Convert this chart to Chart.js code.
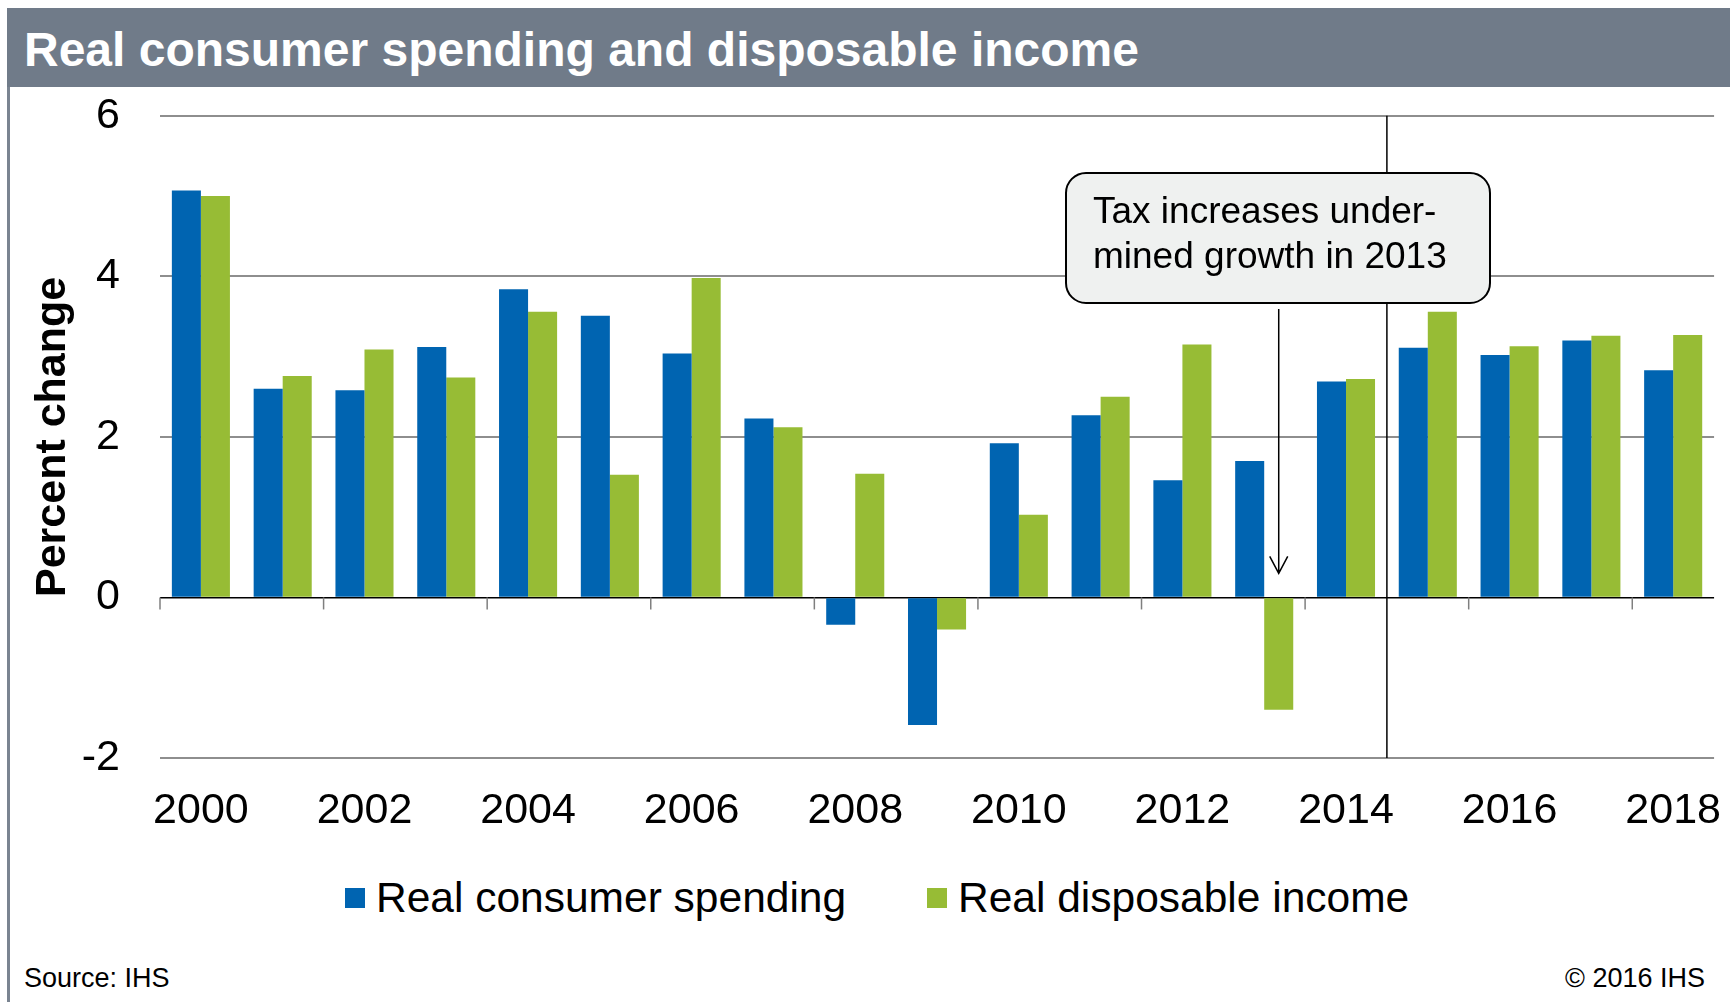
<!DOCTYPE html>
<html>
<head>
<meta charset="utf-8">
<script src="https://cdn.jsdelivr.net/npm/chart.js@4.4.1/dist/chart.umd.min.js"></script>
<style>
  body { margin: 0; background: #fff; font-family: "Liberation Sans", Arial, sans-serif; }
  #page { position: relative; width: 1730px; height: 1002px; overflow: hidden; }
  #titlebar { position: absolute; left: 7px; top: 8px; width: 1723px; height: 79px; background: #707b89; }
  #titlebar span { position: absolute; left: 17px; top: 18px; line-height: 48px; color: #fff; font-weight: bold; font-size: 48px; white-space: nowrap; }
  #leftline { position: absolute; left: 7px; top: 87px; width: 3px; height: 915px; background: #7a8491; }
  #box { position: absolute; left: 10px; top: 50px; width: 1738px; height: 788px; }
  .foot { position: absolute; top: 963px; font-size: 27px; color: #000; }
  .leg { position: absolute; top: 873px; height: 50px; line-height: 50px; font-size: 42.5px; color: #000; white-space: nowrap; }
  .leg i { position: absolute; top: 15px; width: 20px; height: 20px; }
</style>
</head>
<body>
<div id="page">
  <div id="titlebar"><span>Real consumer spending and disposable income</span></div>
  <div id="leftline"></div>
  <div id="box"><canvas id="chart"></canvas></div>
  <div id="legend"></div>
  <div class="foot" style="left:24px">Source: IHS</div>
  <div class="foot" style="right:25px">© 2016 IHS</div>
</div>
<script>
const years = ["2000","2001","2002","2003","2004","2005","2006","2007","2008","2009",
               "2010","2011","2012","2013","2014","2015","2016","2017","2018"];
const spending = [5.07, 2.60, 2.58, 3.12, 3.84, 3.51, 3.04, 2.23, -0.34, -1.59,
                  1.92, 2.27, 1.46, 1.70, 2.69, 3.11, 3.02, 3.20, 2.83];
const income = [5.00, 2.76, 3.09, 2.74, 3.56, 1.53, 3.98, 2.12, 1.54, -0.40,
                1.03, 2.50, 3.15, -1.40, 2.72, 3.56, 3.13, 3.26, 3.27];
const seriesLabels = ["Real consumer spending", "Real disposable income"];
const seriesColors = ["#0064b1", "#97bc35"];
const yTicks = [-2, 0, 2, 4, 6];
const noteLines = ["Tax increases under-", "mined growth in 2013"];
const noteYear = "2013";
const forecastFrom = "2015";

const FONT = '"Liberation Sans", Arial, sans-serif';

// legend below the chart, built from the series names and colours
const legendX = [345, 927];
const legendEl = document.getElementById("legend");
seriesLabels.forEach((name, i) => {
  const d = document.createElement("div");
  d.className = "leg";
  d.style.left = legendX[i] + "px";
  d.innerHTML = '<i style="left:0;background:' + seriesColors[i] + '"></i><span style="margin-left:31px">' + name + '</span>';
  legendEl.appendChild(d);
});

// zero line ticks, forecast divider and the note with its arrow
const extras = {
  id: "extras",
  afterDatasetsDraw(chart) {
    const ctx = chart.ctx;
    const x = chart.scales.x, y = chart.scales.y;
    const half = (x.getPixelForValue(1) - x.getPixelForValue(0)) / 2;
    const y0 = y.getPixelForValue(0);
    ctx.save();
    ctx.strokeStyle = "#7f7f7f";
    ctx.lineWidth = 1.5;
    for (let i = 0; i < years.length; i += 2) {
      const px = x.getPixelForValue(i) - half;
      ctx.beginPath();
      ctx.moveTo(px, y0);
      ctx.lineTo(px, y0 + 12);
      ctx.stroke();
    }
    // forecast divider
    const fx = x.getPixelForValue(years.indexOf(forecastFrom)) - half;
    ctx.strokeStyle = "#000";
    ctx.lineWidth = 1.5;
    ctx.beginPath();
    ctx.moveTo(fx, y.top);
    ctx.lineTo(fx, y.bottom);
    ctx.stroke();

    // note box
    const bx = 1056, by = 123, bw = 424, bh = 130, r = 20;
    ctx.fillStyle = "#eff1f0";
    ctx.strokeStyle = "#000";
    ctx.lineWidth = 2;
    ctx.beginPath();
    ctx.roundRect(bx, by, bw, bh, r);
    ctx.fill();
    ctx.stroke();
    ctx.fillStyle = "#000";
    ctx.font = "37px " + FONT;
    ctx.textBaseline = "alphabetic";
    ctx.textAlign = "left";
    ctx.fillText(noteLines[0], bx + 27, by + 50);
    ctx.fillText(noteLines[1], bx + 27, by + 95);

    // arrow down to the income bar of 2013
    const bar = chart.getDatasetMeta(1).data[years.indexOf(noteYear)];
    const ax = bar.x, ay1 = by + bh + 6, ay2 = y0 - 24;
    ctx.lineWidth = 1.5;
    ctx.beginPath();
    ctx.moveTo(ax, ay1);
    ctx.lineTo(ax, ay2);
    ctx.moveTo(ax - 9, ay2 - 17);
    ctx.lineTo(ax, ay2);
    ctx.lineTo(ax + 9, ay2 - 17);
    ctx.stroke();
    ctx.restore();
  }
};

new Chart(document.getElementById("chart"), {
  type: "bar",
  data: {
    labels: years,
    datasets: [
      { label: seriesLabels[0], data: spending, backgroundColor: seriesColors[0] },
      { label: seriesLabels[1], data: income, backgroundColor: seriesColors[1] }
    ]
  },
  options: {
    responsive: true,
    maintainAspectRatio: false,
    animation: false,
    datasets: { bar: { categoryPercentage: 0.71, barPercentage: 1.0 } },
    layout: { padding: 0 },
    plugins: {
      tooltip: { enabled: false },
      legend: { display: false }
    },
    scales: {
      x: {
        afterFit: s => { s.height = 80; },
        grid: { display: false, drawTicks: false },
        border: { display: false },
        ticks: {
          color: "#000",
          font: { family: FONT, size: 43 },
          padding: 27,
          autoSkip: false,
          maxRotation: 0,
          callback: (v, i) => (i % 2 === 0 ? years[i] : "")
        }
      },
      y: {
        min: yTicks[0],
        max: yTicks[yTicks.length - 1],
        afterFit: s => { s.width = 150; },
        afterBuildTicks: s => { s.ticks = yTicks.map(v => ({ value: v })); },
        grid: {
          drawTicks: false,
          color: c => (c.tick.value === 0 ? "#000" : "#8e8e8e"),
          lineWidth: c => (c.tick.value === 0 ? 1.5 : 2)
        },
        border: { display: false },
        ticks: {
          color: "#000",
          font: { family: FONT, size: 43 },
          padding: 40
        },
        title: {
          display: true,
          text: "Percent change",
          color: "#000",
          font: { family: FONT, size: 43, weight: "bold" },
          padding: { top: 17, bottom: 0 }
        }
      }
    }
  },
  plugins: [extras]
});
</script>
</body>
</html>
